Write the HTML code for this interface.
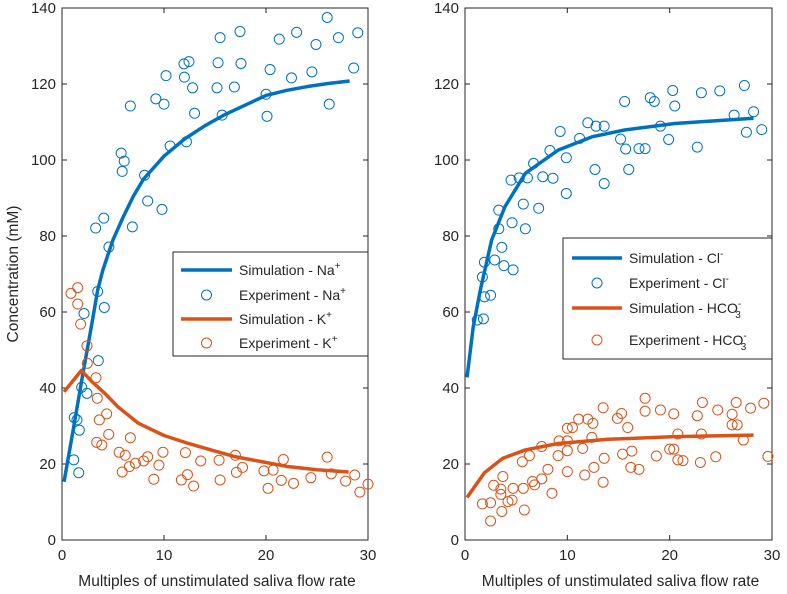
<!DOCTYPE html>
<html><head><meta charset="utf-8"><style>
html,body{margin:0;padding:0;background:#fff;}
svg{display:block;font-family:"Liberation Sans",Arial,sans-serif;}
</style></head><body>
<svg id="chart" width="787" height="594" viewBox="0 0 787 594" xmlns="http://www.w3.org/2000/svg"></svg>
<script>
const xTicks=[0,10,20,30];
const yTicks=[0,20,40,60,80,100,120,140];
const naSimX=[0.2,1,2,3,3.5,4,5,6,7,8,10,12,14,16,18,20,22,24,26,28.2];
const naSimY=[15.3,27.5,43,58,65.8,71,79,85,90.5,95,101,105.5,109,112,114.5,117,118.3,119.3,120.1,120.8];
const naExpX=[26.0,17.45,15.5,23.0,21.3,24.9,27.1,29.0,12.45,11.96,15.3,17.55,20.4,24.5,28.6,10.2,12.0,22.5,12.8,15.2,16.9,20.0,9.2,10.0,6.7,26.2,13.0,15.7,20.1,10.6,12.2,5.8,6.1,5.9,8.1,8.4,9.8,4.1,3.3,6.9,4.6,3.5,4.15,2.16,3.56,1.93,2.45,1.2,1.47,1.7,1.15,1.64];
const naExpY=[137.5,133.8,132.2,133.6,131.8,130.4,132.2,133.5,125.9,125.3,125.6,125.4,123.8,123.2,124.2,122.2,121.8,121.6,119,119,119.2,117.3,116.1,114.7,114.2,114.7,112.3,111.8,111.5,103.7,104.8,101.8,99.7,97,96,89.2,87,84.7,82.1,82.4,77.1,65.4,61.2,59.6,47.2,40.2,38.6,32.2,31.6,28.9,21.1,17.7];
const kSimX=[0.2,1.9,3,4.2,5.5,7.5,10,12.4,15,17,20,22.2,25,28.1];
const kSimY=[39,44.6,41.5,38.6,35,30.7,27.5,25.4,23.4,21.9,20.4,19.3,18.5,17.9];
const kExpX=[0.88,1.54,1.54,1.83,2.45,2.48,3.33,3.46,4.38,3.66,4.58,6.7,3.4,3.9,5.6,6.2,7.2,6.6,5.9,8.0,8.4,9.5,9.9,9.0,12.1,13.6,11.7,12.3,12.9,15.4,15.5,17.0,17.7,17.1,19.8,20.7,20.2,21.5,21.7,22.7,24.4,26.0,26.4,27.8,28.7,29.2,30.0];
const kExpY=[64.9,66.4,62.1,56.8,51.1,46.5,42.7,37.3,33.2,31.6,27.8,26.9,25.7,25,23.1,22.3,20.2,19.3,17.9,20.8,21.9,19.7,23.1,16.0,23.0,20.8,15.8,17.2,14.2,21.0,15.8,22.3,19.1,17.8,18.2,18.4,13.6,15.7,21.2,14.9,16.4,21.8,17.4,15.5,17.1,12.6,14.7];
const clSimX=[0.2,0.8,1.5,2.6,3.9,5.9,9.1,12.4,15.6,20.5,28.2];
const clSimY=[42.8,56,65.8,78.9,87.7,96.5,102.6,106.1,107.9,109.6,111];
const clExpX=[27.3,24.9,23.1,20.3,18.1,18.5,15.6,20.5,26.3,28.2,27.5,29.0,12.0,12.8,13.6,19.1,9.3,11.2,15.2,15.7,17.0,17.6,19.9,22.7,8.3,9.9,6.7,12.7,16.0,13.6,4.5,5.3,6.1,7.6,8.6,9.9,5.7,7.2,3.3,4.6,5.9,3.3,3.6,2.9,1.9,3.8,4.7,1.7,2.5,1.9,1.2,1.8];
const clExpY=[119.6,118.2,117.7,118.3,116.4,115.4,115.4,114.2,111.8,112.7,107.3,108,109.8,108.9,108.9,108.9,107.5,105.7,105.5,102.9,103,103,105.4,103.4,102.5,100.6,99.1,97.5,97.5,93.8,94.7,95.3,95.3,95.6,95.2,91.2,88.4,87.3,86.8,83.5,81.9,81.9,77,73.7,73.1,72.2,71.1,69.2,64.4,64,57.9,58.2];
const hcoSimX=[0.2,1.9,3.7,5.9,9.1,14.0,20.5,28.2];
const hcoSimY=[11.2,17.7,21.5,23.7,25.4,26.5,27.2,27.6];
const hcoExpX=[1.7,2.5,2.5,3.6,2.8,3.5,3.7,3.5,4.2,4.6,4.7,5.7,5.8,5.6,6.3,6.6,6.8,7.5,7.5,8.1,8.5,9.1,9.2,10.0,10.0,10.0,10.0,10.5,11.1,11.5,11.7,12.0,12.5,12.4,12.6,13.5,13.6,13.5,14.9,15.3,15.9,15.4,16.3,16.2,17.0,17.6,17.6,19.1,18.7,20.0,20.4,20.4,20.8,20.8,21.3,22.7,23.2,23.1,23.0,24.7,24.5,26.1,26.5,26.1,26.6,27.2,27.9,29.2,29.6];
const hcoExpY=[9.5,9.8,5,7.5,14.4,13.4,16.7,12,10.1,10.5,13.6,13.6,7.9,20.6,22.2,15.4,14.5,16.1,24.6,18.6,12.3,22.2,26.1,23.5,18.0,26.1,29.4,29.6,31.8,24.1,17.1,31.8,30.7,27.0,19.1,34.8,21.5,15.2,32.0,33.3,29.6,22.6,23.4,19.1,18.6,37.3,33.9,34.2,22.1,23.9,23.9,33.2,27.9,21.1,20.9,32.7,36.2,27.9,20.4,34.2,21.9,33.1,36.2,30.3,30.3,26.3,34.7,36,22];

const NS="http://www.w3.org/2000/svg";
const svg=document.getElementById('chart');
const BLUE="#0072BD",ORANGE="#D95319";
function mk(tag,attrs,parent){const e=document.createElementNS(NS,tag);for(const k in attrs)e.setAttribute(k,attrs[k]);(parent||svg).appendChild(e);return e;}
const Y0=540,Y1=8;
function sy(v){return Y0-(v/140)*(Y0-Y1);}

function panel(name,left,right,series,ylabels){
  const g=mk('g',{});
  
  
  const sx=v=>left+(v/30)*(right-left);
  // frame
  const fr=mk('rect',{x:left,y:Y1,width:right-left,height:Y0-Y1,fill:'none',stroke:'#262626','stroke-width':1},g);
  
  
  xTicks.forEach(t=>{
    const x=sx(t);
    mk('line',{x1:x,y1:Y0,x2:x,y2:Y0-5,stroke:'#262626'},g);
    mk('line',{x1:x,y1:Y1,x2:x,y2:Y1+5,stroke:'#262626'},g);
    const tx=mk('text',{x:x,y:Y0+20,'font-size':15,'text-anchor':'middle',fill:'#262626'},g);
    tx.textContent=t;
    
    
  });
  yTicks.forEach(t=>{
    const y=sy(t);
    mk('line',{x1:left,y1:y,x2:left+5,y2:y,stroke:'#262626'},g);
    mk('line',{x1:right,y1:y,x2:right-5,y2:y,stroke:'#262626'},g);
    const ty=mk('text',{x:left-6,y:y+5,'font-size':15,'text-anchor':'end',fill:'#262626'},g);
    ty.textContent=t;
    
    
  });
  const xl=mk('text',{x:(left+right)/2+2,y:586,'font-size':15.5,'text-anchor':'middle',fill:'#262626'},g);
  xl.textContent='Multiples of unstimulated saliva flow rate';
  
  
  series.forEach(s=>{
    if(s.type==='line'){
      const p=mk('polyline',{points:s.x.map((v,i)=>sx(v)+','+sy(s.y[i])).join(' '),fill:'none',stroke:s.color,'stroke-width':3.5,'stroke-linejoin':'round'},g);
      
      
    } else {
      s.x.forEach((v,i)=>{
        const c=mk('circle',{cx:sx(v),cy:sy(s.y[i]),r:5,fill:'none',stroke:s.color,'stroke-width':1},g);
        
        
      });
    }
  });
  return g;
}
panel('left-panel-na-k',62,368,[
 {type:'line',x:naSimX,y:naSimY,color:BLUE,name:'na-simulation-line'},
 {type:'pts',x:naExpX,y:naExpY,color:BLUE,name:'na-experiment-point'},
 {type:'line',x:kSimX,y:kSimY,color:ORANGE,name:'k-simulation-line'},
 {type:'pts',x:kExpX,y:kExpY,color:ORANGE,name:'k-experiment-point'}]);
panel('right-panel-cl-hco3',465,772,[
 {type:'line',x:clSimX,y:clSimY,color:BLUE,name:'cl-simulation-line'},
 {type:'pts',x:clExpX,y:clExpY,color:BLUE,name:'cl-experiment-point'},
 {type:'line',x:hcoSimX,y:hcoSimY,color:ORANGE,name:'hco3-simulation-line'},
 {type:'pts',x:hcoExpX,y:hcoExpY,color:ORANGE,name:'hco3-experiment-point'}]);

const yl=mk('text',{x:0,y:0,'font-size':15.5,'text-anchor':'middle',fill:'#262626',transform:'translate(18,274) rotate(-90)'});
yl.textContent='Concentration (mM)';



function legend(name,x,y,w,h,entries,lx1,lx2,tx){
  const g=mk('g',{});
  
  
  mk('rect',{x:x,y:y,width:w,height:h,fill:'#fff',stroke:'#262626','stroke-width':1},g);
  entries.forEach(e=>{
    const eg=mk('g',{},g);
    
    
    if(e.line) mk('line',{x1:lx1,y1:e.y,x2:lx2,y2:e.y,stroke:e.color,'stroke-width':3.5},eg);
    else mk('circle',{cx:(lx1+lx2)/2,cy:e.y,r:5,fill:'none',stroke:e.color},eg);
    const t=mk('text',{x:tx,y:e.y+5,'font-size':14,fill:'#262626'},eg);
    t.innerHTML=e.label;
  });
}
legend('legend-left',173,252,195,104,[
 {line:true,color:BLUE,y:270,label:'Simulation - Na<tspan font-size="10" dy="-6">+</tspan>'},
 {line:false,color:BLUE,y:295,label:'Experiment - Na<tspan font-size="10" dy="-6">+</tspan>'},
 {line:true,color:ORANGE,y:319,label:'Simulation - K<tspan font-size="10" dy="-6">+</tspan>'},
 {line:false,color:ORANGE,y:343,label:'Experiment - K<tspan font-size="10" dy="-6">+</tspan>'}],181,232,239);
legend('legend-right',563,238,209,121,[
 {line:true,color:BLUE,y:258,label:'Simulation - Cl<tspan font-size="10" dy="-6">-</tspan>'},
 {line:false,color:BLUE,y:283,label:'Experiment - Cl<tspan font-size="10" dy="-6">-</tspan>'},
 {line:true,color:ORANGE,y:308,label:'Simulation - HCO<tspan font-size="10" dy="-6">-</tspan><tspan font-size="10" dx="-6" dy="11">3</tspan>'},
 {line:false,color:ORANGE,y:340,label:'Experiment - HCO<tspan font-size="10" dy="-6">-</tspan><tspan font-size="10" dx="-6" dy="11">3</tspan>'}],572,622,629);
</script>
</body></html>
